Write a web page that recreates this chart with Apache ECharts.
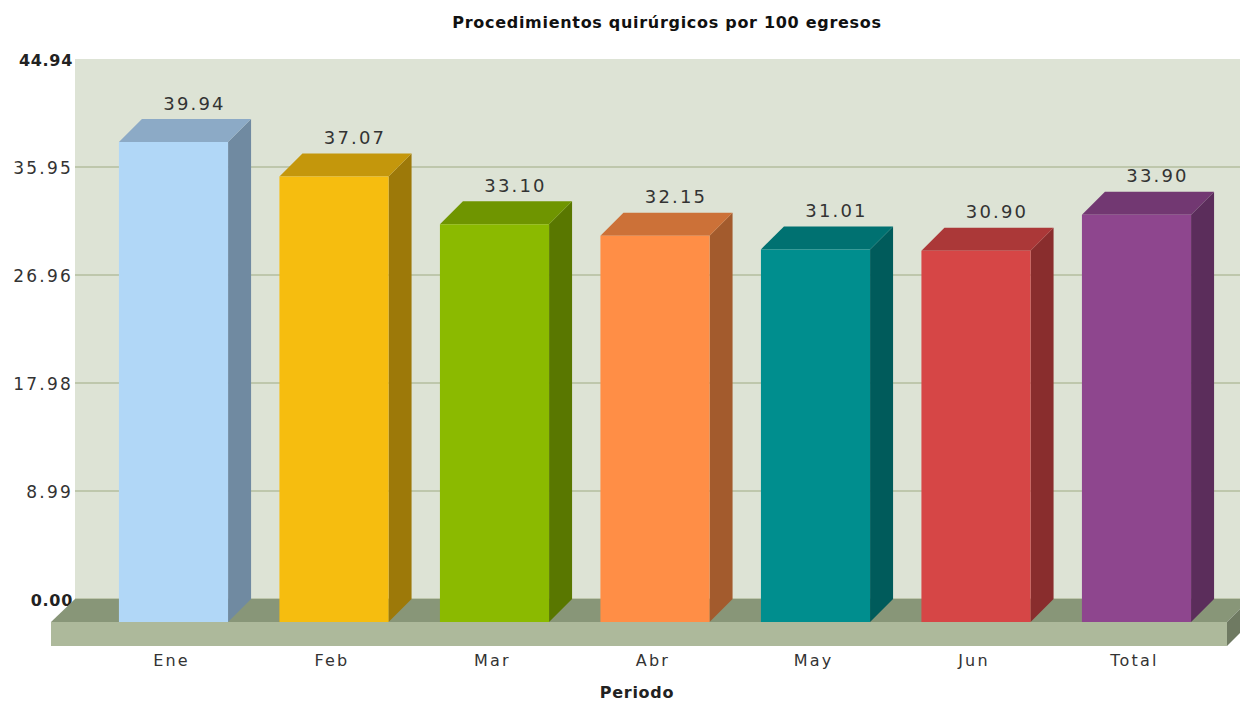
<!DOCTYPE html>
<html><head><meta charset="utf-8">
<style>html,body{margin:0;padding:0;background:#fff}#c{width:1240px;height:701px}
#c svg text{letter-spacing:2.2px}
#c svg text[style*="bold"]{letter-spacing:.7px}
</style>
<script src="https://cdn.jsdelivr.net/npm/echarts@6/dist/echarts.min.js"></script>
</head><body><div id="c"></div>
<script>
const categories = ["Ene","Feb","Mar","Abr","May","Jun","Total"];
const values = [39.94,37.07,33.10,32.15,31.01,30.90,33.90];
const frontColors = ["#B1D7F7","#F6BD0F","#8BBA00","#FF8E46","#008E8E","#D64646","#8E468E"];
const topColors = ["#8CAAC6","#C4970C","#6F9500","#CC7138","#007171","#AB3838","#723872"];
const sideColors = ["#708AA1","#9D7909","#597700","#A35B2D","#005B5B","#892D2D","#5B2D5B"];
const yMax = 44.94, yStep = 8.988;
const DEPTH = 23, FONT = "DejaVu Sans", TXT = "#333333";

function renderBar(params, api){
  const i = api.value(0), v = api.value(1);
  const top = api.coord([i, v]), base = api.coord([i, 0]);
  const w = api.size([1, 0])[0] * 0.68;
  const x0 = top[0] - w/2, x1 = top[0] + w/2, y0 = top[1], y1 = base[1];
  return {type:"group", children:[
    {type:"polygon", shape:{points:[[x1,y0],[x1+DEPTH,y0-DEPTH],[x1+DEPTH,y1-DEPTH],[x1,y1]]}, style:{fill:sideColors[i]}},
    {type:"polygon", shape:{points:[[x0,y0],[x0+DEPTH,y0-DEPTH],[x1+DEPTH,y0-DEPTH],[x1,y0]]}, style:{fill:topColors[i]}},
    {type:"rect", shape:{x:x0,y:y0,width:w,height:y1-y0}, style:{fill:frontColors[i]}},
    {type:"text", style:{text:v.toFixed(2), x:top[0]+21, y:y0-DEPTH-16, align:"center", verticalAlign:"middle",
      fill:TXT, fontFamily:FONT, fontSize:18}}
  ]};
}
function renderFloor(params, api){
  const c = params.coordSys, yb = c.y + c.height, xl = c.x;
  const fl = xl - 24, fr = fl + 1176, fy = yb + DEPTH, fb = fy + 24;
  return {type:"group", children:[
    {type:"polygon", shape:{points:[[xl,yb],[fr+DEPTH,yb],[fr,fy],[fl,fy]]}, style:{fill:"#889678"}},
    {type:"polygon", shape:{points:[[fr,fy],[fr+DEPTH,yb],[fr+DEPTH,fb-DEPTH],[fr,fb]]}, style:{fill:"#6F7A62"}},
    {type:"rect", shape:{x:fl,y:fy,width:fr-fl,height:fb-fy}, style:{fill:"#ADB99B"}}
  ]};
}
const chart = echarts.init(document.getElementById("c"), null, {renderer:"svg"});
chart.setOption({
  animation:false,
  backgroundColor:"#fff",
  title:{text:"Procedimientos quirúrgicos por 100 egresos", left:662, top:9, textAlign:"center",
    textStyle:{fontFamily:FONT,fontSize:16,fontWeight:"bold",color:"#111"}},
  grid:[
    {left:75,right:0,top:59,bottom:102,show:true,backgroundColor:"#DDE3D5",borderWidth:0,outerBoundsMode:"none"},
    {left:93.25,right:23.25,top:82,bottom:79,outerBoundsMode:"none"}
  ],
  xAxis:[
    {gridIndex:0,type:"category",data:[""],show:false},
    {gridIndex:1,type:"category",data:categories,axisLine:{show:false},axisTick:{show:false},
      axisLabel:{margin:30,padding:[0,4,0,0],fontFamily:FONT,fontSize:16,color:TXT},
      name:"Periodo",nameLocation:"middle",nameGap:62,
      nameTextStyle:{fontFamily:FONT,fontSize:16,fontWeight:"bold",color:"#222",padding:[0,36,0,0]}}
  ],
  yAxis:[
    {gridIndex:0,type:"value",min:0,max:yMax,interval:yStep,axisLine:{show:false},axisTick:{show:false},
      splitLine:{show:true,showMaxLine:false,lineStyle:{color:"#B3BE9E",width:1.5}},
      axisLabel:{margin:2,padding:[2,0,0,0],color:TXT,fontFamily:FONT,fontSize:17,showMinLabel:true,showMaxLabel:true,
        formatter:function(v){const s=v.toFixed(2);return (v===0||Math.abs(v-yMax)<1e-6)?"{b|"+s+"}":s;},
        rich:{b:{fontWeight:"bold",fontFamily:FONT,fontSize:16,color:"#222"}}}},
    {gridIndex:1,type:"value",min:0,max:yMax,show:false,splitLine:{show:false}}
  ],
  series:[
    {type:"custom",xAxisIndex:0,yAxisIndex:0,z:1,silent:true,renderItem:renderFloor,data:[[0,0]]},
    {type:"custom",xAxisIndex:1,yAxisIndex:1,z:2,silent:true,renderItem:renderBar,
      encode:{x:0,y:1},data:values.map((v,i)=>[i,v])}
  ]
});
</script></body></html>
